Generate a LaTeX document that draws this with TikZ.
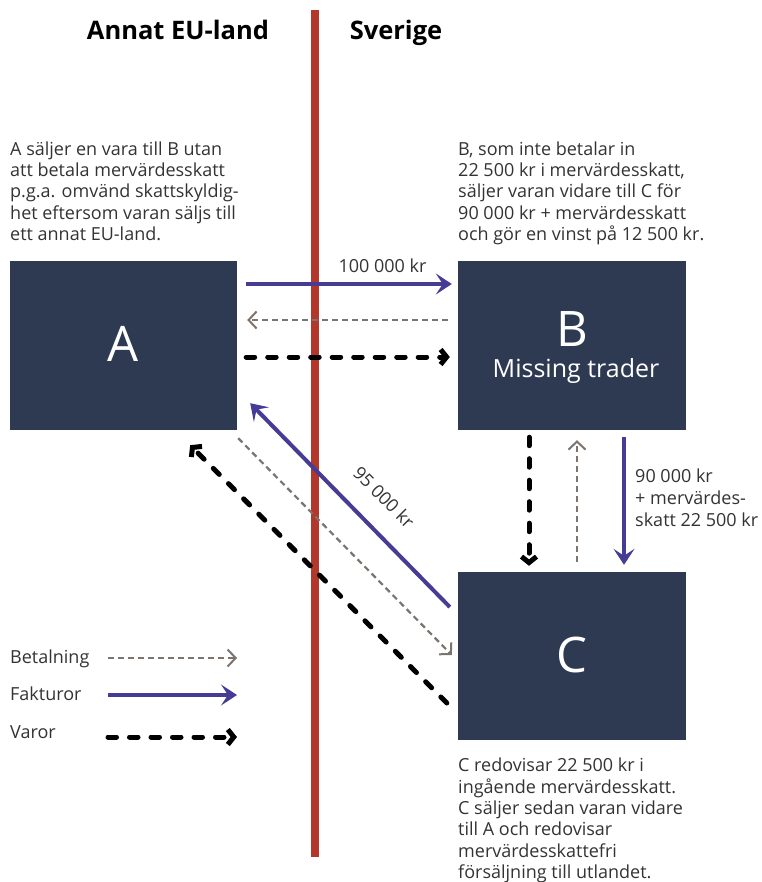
\documentclass[tikz,border=0pt]{standalone}
\usepackage{fontspec}
\setmainfont{Open Sans}
\usetikzlibrary{arrows.meta,calc}
\definecolor{navy}{HTML}{2E3A52}
\definecolor{redline}{HTML}{B3372B}
\definecolor{fakt}{HTML}{463C96}
\definecolor{betal}{HTML}{7B746F}
\definecolor{txt}{HTML}{333333}
\begin{document}
\begin{tikzpicture}[x=1pt,y=-1pt,
  box/.style={fill=navy, draw=none, inner sep=0pt},
  boxletter/.style={text=white, font=\fontsize{49}{54}\selectfont, inner sep=0pt},
  boxsub/.style={text=white, font=\fontsize{25}{28}\selectfont, inner sep=0pt},
  header/.style={font=\bfseries\fontsize{25.5}{28}\selectfont, text=black, inner sep=0pt},
  desc/.style={text=txt, font=\fontsize{18}{21.3}\selectfont, align=left, anchor=north west, inner sep=0pt},
  lbl/.style={text=txt, font=\fontsize{18}{21.7}\selectfont, inner sep=0pt},
  fakarrow/.style={draw=fakt, line width=4pt, -{Stealth[length=16pt,width=21pt,inset=7pt]}},
  betarrow/.style={draw=betal, line width=2.2pt, dash pattern=on 6pt off 4pt, -{Straight Barb[length=8pt,width=17pt,line width=2pt]}},
  vararrow/.style={draw=black, line width=5pt, line cap=round, dash pattern=on 8.5pt off 13pt, -{Straight Barb[length=6pt,width=15pt,line width=5pt]}}
]
\useasboundingbox (0,0) rectangle (761,882);
% border line
\coordinate (Ltop) at (315,10);
\coordinate (Lbot) at (315,857);
\draw[redline, line width=8pt] (Ltop) -- (Lbot);
% headers
\node[header, anchor=base] (hEU) at (178,39.5) {Annat EU-land};
\node[header, anchor=base] (hSE) at (396,39.5) {Sverige};
% boxes
\node[box, minimum width=227pt, minimum height=169pt] (A) at (123.5,345.5) {};
\node[box, minimum width=228pt, minimum height=169pt] (B) at (572,345.5) {};
\node[box, minimum width=228pt, minimum height=168pt] (C) at (572,656) {};
\node[boxletter] (Alab) at (123,344) {A};
\node[boxletter] (Blab) at (572,329) {B};
\node[boxsub, anchor=base] (Bsub) at (576,377) {Missing trader};
\node[boxletter] (Clab) at (572,655) {C};
% descriptions
\node[desc] (Adesc) at (10,141.5) {A säljer en vara till B utan\\att betala mervärdesskatt\\p.g.a. omvänd skattskyldig-\\het eftersom varan säljs till\\ett annat EU-land.};
\node[desc] (Bdesc) at (458,141.5) {B, som inte betalar in\\22 500 kr i mervärdesskatt,\\säljer varan vidare till C för\\90 000 kr + mervärdesskatt\\och gör en vinst på 12 500 kr.};
\node[desc] (Cdesc) at (458,758) {C redovisar 22 500 kr i\\ingående mervärdesskatt.\\C säljer sedan varan vidare\\till A och redovisar\\mervärdesskattefri\\försäljning till utlandet.};
% A <-> B
\draw[fakarrow] ([xshift=9pt,yshift=61.5pt]A.east) -- ([xshift=-6pt,yshift=61.5pt]B.west);
\node[lbl, anchor=base] (l100) at (382.5,272.5) {100 000 kr};
\draw[betarrow] ([xshift=-10pt,yshift=25.5pt]B.west) -- ([xshift=10pt,yshift=25.5pt]A.east);
\draw[vararrow] ([xshift=9pt,yshift=-11.5pt]A.east) -- ([xshift=-8pt,yshift=-11.5pt]B.west);
% C <-> A diagonals
\draw[fakarrow] ([xshift=-8pt,yshift=49pt]C.west) -- ([xshift=13pt,yshift=27pt]A.south east);
\node[lbl, rotate=-45] (l95) at (384,497) {95 000 kr};
\draw[betarrow] ([xshift=1pt,yshift=-8pt]A.south east) -- ([xshift=-6pt,yshift=1pt]C.west);
\draw[vararrow] ([xshift=-11pt,yshift=-47pt]C.west) -- ([xshift=-47pt,yshift=-15pt]A.south east);
% B <-> C verticals
\draw[vararrow] ([xshift=-43pt,yshift=-7pt]B.south) -- ([xshift=-43pt,yshift=6pt]C.north);
\draw[betarrow] ([xshift=5pt,yshift=10pt]C.north) -- ([xshift=5pt,yshift=-10pt]B.south);
\draw[fakarrow] ([xshift=52pt,yshift=-7pt]B.south) -- ([xshift=52pt,yshift=7pt]C.north);
\node[lbl, align=left, anchor=north west] (l90) at (635,469) {90 000 kr\\+ mervärdes-\\skatt 22 500 kr};
% legend
\node[lbl, anchor=base west] (legB) at (10,663) {Betalning};
\node[lbl, anchor=base west] (legF) at (10,700) {Fakturor};
\node[lbl, anchor=base west] (legV) at (10,738) {Varor};
\coordinate (bs) at (108,658); \coordinate (be) at (237,658);
\coordinate (fs) at (108,695); \coordinate (fe) at (237,695);
\coordinate (vs) at (108,737); \coordinate (ve) at (237,737);
\draw[betarrow] (bs) -- (be);
\draw[fakarrow] (fs) -- (fe);
\draw[vararrow] (vs) -- (ve);
\end{tikzpicture}
\end{document}
